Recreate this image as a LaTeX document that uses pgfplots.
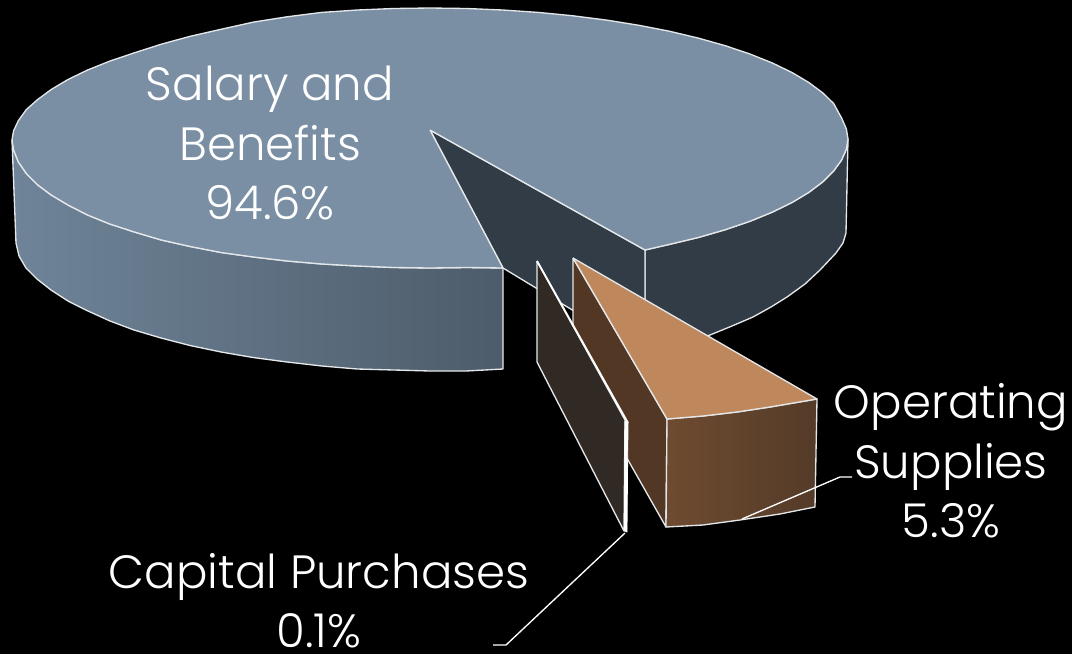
\documentclass[border=0pt]{standalone}
\usepackage{pgfplots}
\pgfplotsset{compat=1.18}
\usepackage{fontspec}
\setmainfont[UprightFont=* Light]{Poppins}
\definecolor{topblue}{HTML}{7A8FA4}
\definecolor{slate}{HTML}{323C46}
\definecolor{edge}{HTML}{E4E7EA}
\definecolor{tanface}{HTML}{BF875C}
\definecolor{brownside}{HTML}{523725}
\definecolor{capside}{HTML}{312A24}
\definecolor{wallA}{HTML}{6F8499}
\definecolor{wallB}{HTML}{6A7F94}
\definecolor{wallC}{HTML}{4D5C6A}
\definecolor{frontA}{HTML}{6E4B30}
\definecolor{frontB}{HTML}{543B28}
\begin{document}
\begin{tikzpicture}
\begin{axis}[
  scale only axis, width=804pt, height=490.5pt,
  xmin=0, xmax=1072, ymin=0, ymax=654, y dir=reverse,
  ticks=none, axis line style={draw=none},
  axis background/.style={fill=black},
  every axis plot/.append style={line join=round, draw=edge, line width=1pt, mark=none},
]
% Back wall on the right of the cut
\addplot[fill=slate] coordinates {
 (645,250) (669.8,244.3) (698.7,237.4) (725.6,229.6) (750.2,221.2) (772.4,212.1) (792,202.5)
 (808.8,192.4) (822.8,181.8) (833.7,170.9) (841.6,160) (846.4,149) (848,139)
 (846,233) (843,243) (836,253) (820,270) (805,284) (787,297) (771,307) (753,317) (732,326)
 (710,335) (680,345) (645,354) (645,250)};
% Inner wall of the large slice
\addplot[fill=slate] coordinates {(430,130) (645,250) (645,354) (503,268) (430,130)};
% Outer wall of the large slice
\addplot[left color=wallA,middle color=wallB,right color=wallC,shading=axis] coordinates {
 (12,140) (13.6,150) (18.4,162) (26.3,173.5) (37.2,184.5) (51.2,195) (68,205) (87.6,215)
 (109.8,224) (134.4,232) (161.3,240) (190.2,246.5) (221,252.5) (253.4,257) (287,261)
 (321.8,264) (357.4,266) (393.6,267.5) (430,268) (466.4,267.5) (503,268)
 (503,369) (466,371) (430,371) (394,370) (357,369) (322,366) (287,362) (253,357.5) (221,352)
 (190,345.5) (161,338) (134,330) (110,321) (88,311) (68,301) (51,290) (37,279) (26,268) (19,256)
 (16,243) (12,140)};
% Top face of the large slice
\addplot[fill=topblue] coordinates {
 (430,130) (645,250) (669.8,244.3) (698.7,237.4) (725.6,229.6) (750.2,221.2) (772.4,212.1) (792,202.5)
 (808.8,192.4) (822.8,181.8) (833.7,170.9) (841.6,160) (846.4,149) (848,139)
 (846.4,129) (841.6,118) (833.7,103.6) (822.8,92.9) (808.8,82.5) (792,72.5) (772.4,63) (750.2,54.1)
 (725.6,45.8) (698.7,38.2) (669.8,31.3) (639,25.3) (606.6,20.1) (573,15.8) (538.2,12.4) (502.6,10)
 (466.4,8.5) (430,8) (393.6,8.5) (357.4,10) (321.8,12.4) (287,16.8) (253.4,22.1) (221,29.3)
 (190.2,36.3) (161.3,44.2) (134.4,52.8) (109.8,61.1) (87.6,70) (68,79.5) (51.2,89.5) (37.2,99.9)
 (26.3,109.6) (18.4,120.6) (13.6,130.8) (12,140) (13.6,150) (18.4,162) (26.3,173.5) (37.2,184.5)
 (51.2,195) (68,205) (87.6,215) (109.8,224) (134.4,232) (161.3,240) (190.2,246.5)
 (221,252.5) (253.4,257) (287,261) (321.8,264) (357.4,266) (393.6,267.5) (430,268)
 (466.4,267.5) (503,268) (430,130)};
% Operating Supplies slice
\addplot[fill=brownside] coordinates {(573,258) (667,419) (666,527) (573,363) (573,258)};
\addplot[left color=frontA,right color=frontB,shading=axis] coordinates {
 (667,419) (703,416) (737,412) (770,407) (817,399) (815,507) (780,514) (740,520) (703,525) (666,527) (667,419)};
\addplot[fill=tanface] coordinates {(573,258) (667,419) (703,416) (737,412) (770,407) (817,399) (573,258)};
% Capital Purchases slice
\addplot[fill=capside] coordinates {(537,261) (625,420) (624,531) (537,362) (537,261)};
\addplot[fill=white,draw=white,line width=0.6pt] coordinates {(625,421) (628,423) (627,532) (624.5,531) (625,421)};
\addplot[white,line width=1.4pt] coordinates {(537,261) (628,423)};
% Leader lines
\addplot[white,line width=1pt] coordinates {(625,533) (506,645) (493,645)};
\addplot[white,line width=1pt] coordinates {(742,519) (840,477) (852,477)};
% Slice labels
\node[white,inner sep=0pt,align=center,font=\fontsize{35}{44.5}\selectfont] at (axis cs:270,143) {Salary and\\Benefits\\94.6\%};
\node[white,inner sep=0pt,align=center,font=\fontsize{35}{44.5}\selectfont] at (axis cs:951,461) {Operating\\Supplies\\5.3\%};
\node[white,inner sep=0pt,align=center,font=\fontsize{35}{44.5}\selectfont] at (axis cs:319,601) {Capital Purchases\\0.1\%};
\end{axis}
\end{tikzpicture}
\end{document}
